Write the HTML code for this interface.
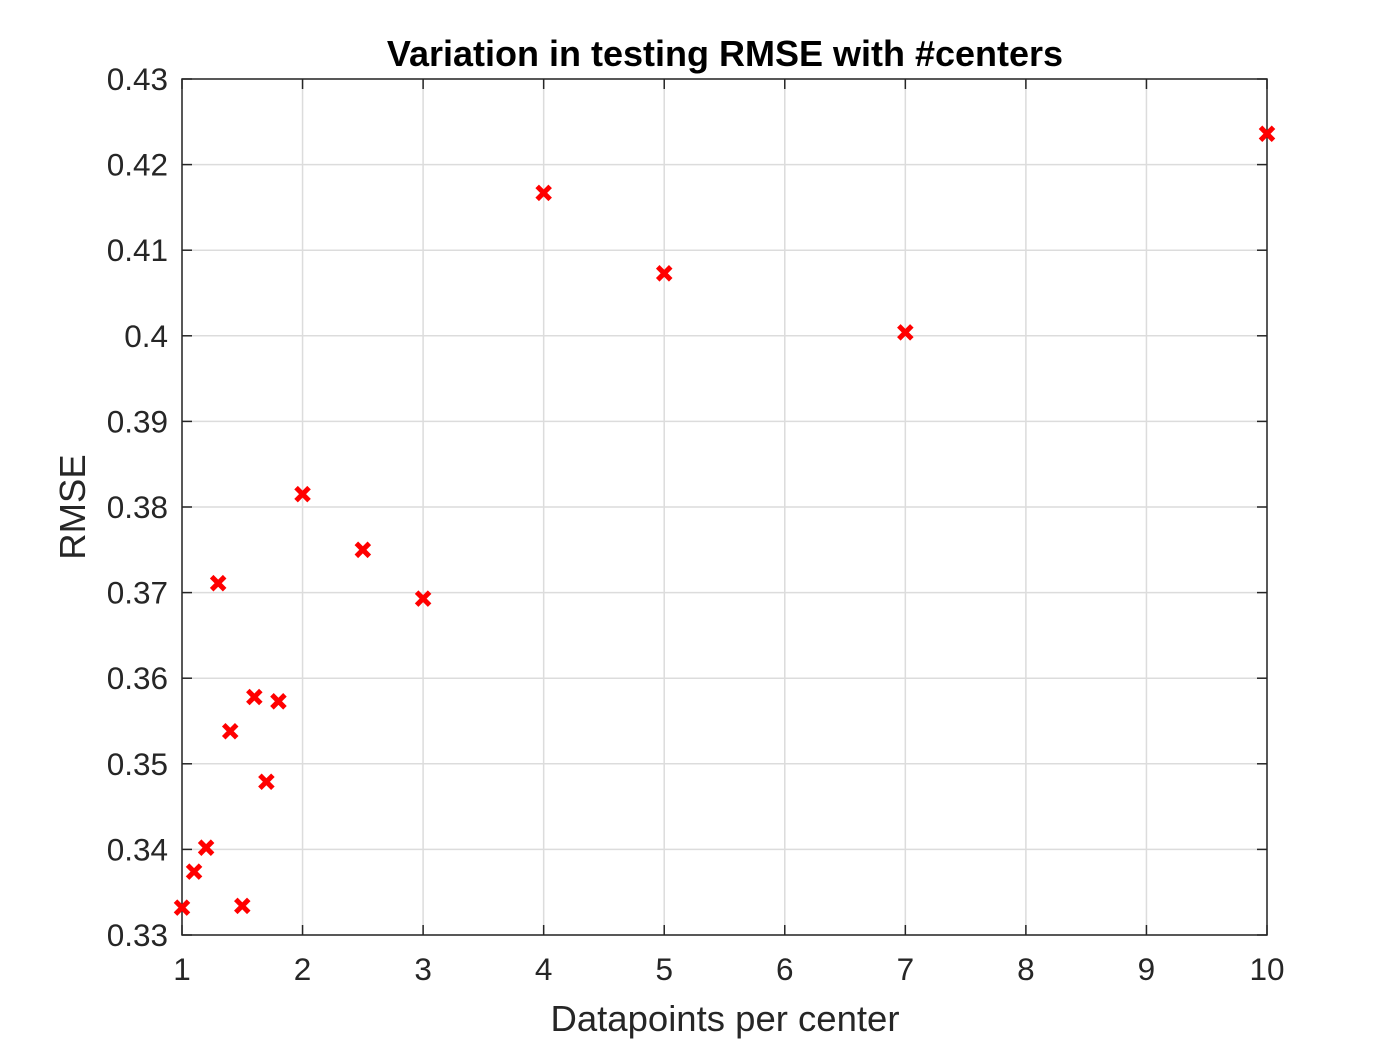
<!DOCTYPE html>
<html><head><meta charset="utf-8"><style>
body{margin:0;background:#fff;}
svg{display:block;font-family:"Liberation Sans",Arial,sans-serif;}
</style></head><body>
<svg id="chart" width="1400" height="1050">
<rect width="1400" height="1050" fill="#fff"/>
<g id="grid"></g>
<g id="axes"></g>
<g id="marks"></g>
<text x="725" y="66" text-anchor="middle" font-size="36" font-weight="bold" fill="#000">Variation in testing RMSE with #centers</text>
<text x="725" y="1031" text-anchor="middle" font-size="36.5" fill="#262626">Datapoints per center</text>
<text transform="translate(85,507) rotate(-90)" text-anchor="middle" font-size="36.5" fill="#262626">RMSE</text>
</svg>
<script>
const xVals=[1,1.1,1.2,1.3,1.4,1.5,1.6,1.7,1.8,2,2.5,3,4,5,7,10];
const yVals=[0.3332,0.3374,0.3402,0.3711,0.3538,0.3334,0.3578,0.3479,0.3573,0.3815,0.3750,0.3693,0.4167,0.4073,0.4004,0.4236];
const xTicks=[1,2,3,4,5,6,7,8,9,10];
const yTicks=[0.33,0.34,0.35,0.36,0.37,0.38,0.39,0.4,0.41,0.42,0.43];
const L=182,R=1267,T=79,B=935;
const sx=v=>L+(v-1)/9*(R-L);
const sy=v=>B-(v-0.33)/0.1*(B-T);
const NS="http://www.w3.org/2000/svg";
function mk(t,a,p){const e=document.createElementNS(NS,t);for(const k in a)e.setAttribute(k,a[k]);p.appendChild(e);return e;}
const grid=document.getElementById('grid'),axes=document.getElementById('axes'),marks=document.getElementById('marks');
xTicks.forEach(v=>{const x=sx(v);
const g=mk('line',{x1:x,x2:x,y1:T,y2:B,stroke:'#dcdcdc','stroke-width':1.5},grid);


mk('line',{x1:x,x2:x,y1:B,y2:B-10,stroke:'#262626','stroke-width':1.5},axes);
mk('line',{x1:x,x2:x,y1:T,y2:T+10,stroke:'#262626','stroke-width':1.5},axes);
const t=mk('text',{x:x,y:B+45,'text-anchor':'middle','font-size':31.5,fill:'#262626'},axes);t.textContent=v;

});
yTicks.forEach(v=>{const y=sy(v);
const g=mk('line',{x1:L,x2:R,y1:y,y2:y,stroke:'#dcdcdc','stroke-width':1.5},grid);


mk('line',{x1:L,x2:L+10,y1:y,y2:y,stroke:'#262626','stroke-width':1.5},axes);
mk('line',{x1:R,x2:R-10,y1:y,y2:y,stroke:'#262626','stroke-width':1.5},axes);
const t=mk('text',{x:L-14,y:y+11,'text-anchor':'end','font-size':31.5,fill:'#262626'},axes);t.textContent=String(+v.toFixed(2));

});
mk('rect',{x:L,y:T,width:R-L,height:B-T,fill:'none',stroke:'#262626','stroke-width':1.5},axes);
xVals.forEach((xv,i)=>{const x=sx(xv),y=sy(yVals[i]),d=6.5;
const p=mk('path',{d:`M${x-d},${y-d}L${x+d},${y+d}M${x-d},${y+d}L${x+d},${y-d}`,stroke:'#ff0000','stroke-width':5},marks);

});
</script>
</body></html>
